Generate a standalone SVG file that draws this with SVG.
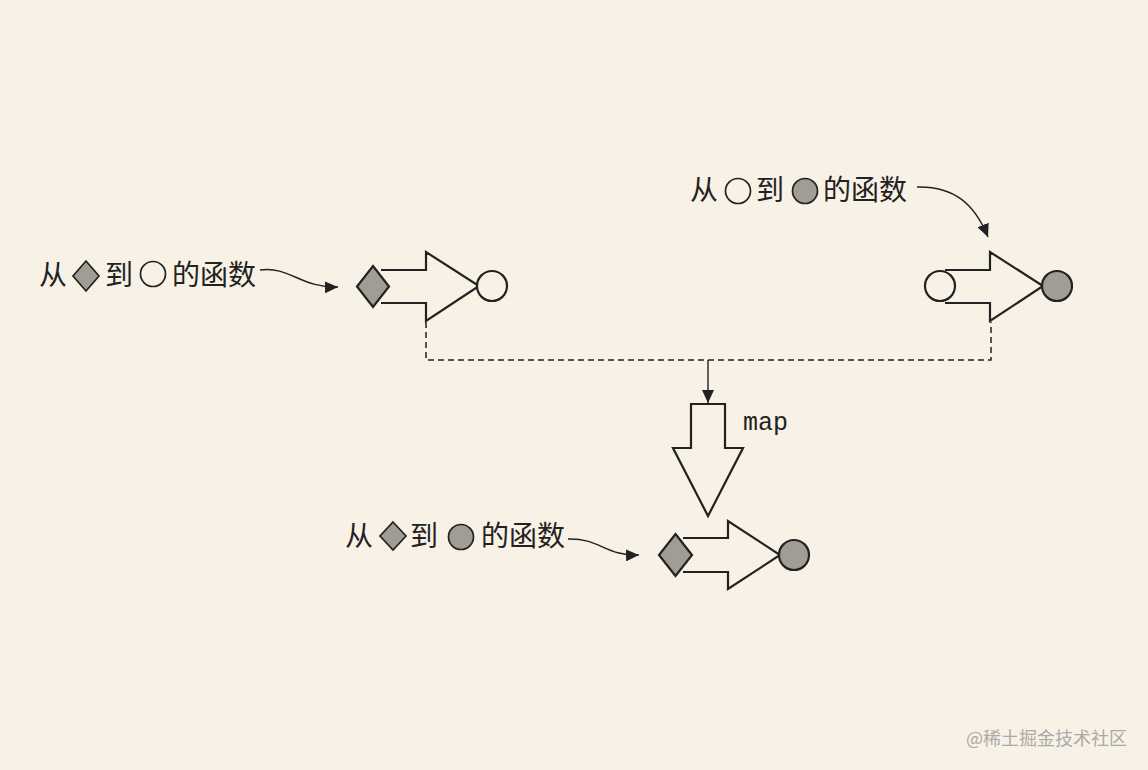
<svg xmlns="http://www.w3.org/2000/svg" width="1148" height="770" viewBox="0 0 1148 770">
<defs>
<style>
.bg{fill:#f8f1e5}
.sh{fill:#f8f1e5;stroke:#222;stroke-width:2.2;stroke-linejoin:miter}
.wh{fill:#f8f1e5;stroke:#222;stroke-width:2.2}
.gr{fill:#a09d95;stroke:#222;stroke-width:2.2}
.grs{fill:#a09d95;stroke:#222;stroke-width:1.7}
.whs{fill:#f8f1e5;stroke:#222;stroke-width:1.7}
.cjk{font-family:"Liberation Serif","Noto Sans CJK SC",serif;font-size:28px;fill:#222}
.mono{font-family:"Liberation Mono",monospace;font-size:25px;fill:#222}
.con{fill:none;stroke:#222;stroke-width:1.4}
.dash{fill:none;stroke:#222;stroke-width:1.5;stroke-dasharray:6 4}
.wm{font-family:"Noto Sans CJK SC",sans-serif;font-size:18px;fill:#aaa}
</style>
<marker id="ah" markerUnits="userSpaceOnUse" markerWidth="14" markerHeight="12" refX="13" refY="6" orient="auto">
<path d="M0,0 L13,6 L0,12 Z" fill="#222"/>
</marker>
</defs>
<rect class="bg" x="0" y="0" width="1148" height="770"/>

<g id="func1">
<path class="sh" d="M381,270 L426,270 L426,252 L479,286 L426,321 L426,303 L381,303"/>
<polygon class="gr" points="373,266 389,286.5 373,307 357,286.5"/>
<circle class="wh" cx="492" cy="286" r="15"/>
</g>

<g id="func2">
<path class="sh" d="M945,270 L990,270 L990,252 L1043,286 L990,321 L990,303 L945,303"/>
<circle class="wh" cx="940" cy="286" r="15"/>
<circle class="gr" cx="1057" cy="286" r="15"/>
</g>

<g id="func3">
<path class="sh" d="M683,538 L728,538 L728,521 L780,555 L728,589 L728,572 L683,572"/>
<polygon class="gr" points="675.5,534 692,555 675.5,576 659,555"/>
<circle class="gr" cx="794" cy="555" r="15"/>
</g>

<g id="map">
<path class="sh" d="M691,404 L725,404 L725,448 L743,448 L708,516 L673,448 L691,448 Z"/>
<text class="mono" x="743" y="430">map</text>
</g>

<g id="label1">
<text class="cjk" x="39" y="285">从</text>
<polygon class="grs" points="86,261 99,276 86,291 73,276"/>
<text class="cjk" x="105" y="285">到</text>
<circle class="whs" cx="153" cy="274" r="12.5"/>
<text class="cjk" x="172" y="285">的函数</text>
</g>

<g id="label2">
<text class="cjk" x="690" y="200">从</text>
<circle class="whs" cx="738" cy="191" r="12.5"/>
<text class="cjk" x="756" y="200">到</text>
<circle class="grs" cx="805" cy="191" r="12.5"/>
<text class="cjk" x="823" y="200">的函数</text>
</g>

<g id="label3">
<text class="cjk" x="345" y="546">从</text>
<polygon class="grs" points="393,522 406,536 393,550 380,536"/>
<text class="cjk" x="410" y="546">到</text>
<circle class="grs" cx="461" cy="537" r="12.5"/>
<text class="cjk" x="481" y="546">的函数</text>
</g>

<g id="connectors">
<path class="con" d="M260,270 C290,266 300,288 338,287" marker-end="url(#ah)"/>
<path class="con" d="M917,187 C955,186 975,205 988,237" marker-end="url(#ah)"/>
<path class="con" d="M568,539 C600,538 605,556 639,555" marker-end="url(#ah)"/>
<path class="dash" d="M426,322 L426,360 L991,360 L991,322"/>
<path class="con" d="M708,360 L708,403" marker-end="url(#ah)"/>
</g>

<text class="wm" x="966" y="745">@稀土掘金技术社区</text>
</svg>
